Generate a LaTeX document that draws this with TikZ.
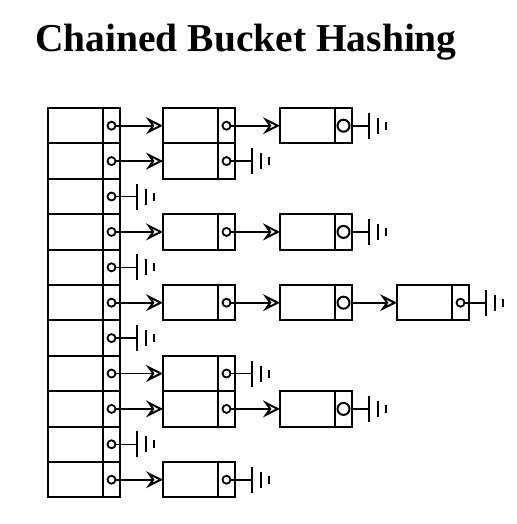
\documentclass[tikz,border=0pt]{standalone}
\usepackage{fontspec}
\setmainfont{Liberation Serif}
\usetikzlibrary{arrows.meta,calc}
\newcommand\lnode[4]{%
  \node[datacell] (#1d) at ({#2+27.5},{108+35.4*(#3-0.5)}) {};
  \node[ptrcell] (#1p) at ({#2+63.5},{108+35.4*(#3-0.5)}) {};
  \node[#4] (#1o) at (#1p.center) {};
}
\newcommand\gnd[1]{%
  \coordinate (#1g) at ($(#1p.east)+(17,0)$);
  \draw[link] (#1o) -- (#1g);
  \pic at (#1g) {gndbars};
}
\begin{document}
\begin{tikzpicture}[x=1pt,y=-1pt,
  cell/.style={draw, line width=2pt, minimum height=35.4pt, inner sep=0pt, outer sep=0pt},
  datacell/.style={cell, minimum width=55pt},
  ptrcell/.style={cell, minimum width=17pt},
  dot/.style={circle, draw, line width=1.8pt, minimum size=8pt, inner sep=0pt},
  bigdot/.style={dot, line width=2pt, minimum size=12pt},
  link/.style={line width=1.6pt},
  ptr/.style={link, -{Stealth[open, length=17pt, width=17pt, inset=6pt, line width=2pt]}},
  gndbars/.pic={
    \draw[line width=2.2pt] (0,-13) -- (0,13);
    \draw[line width=2.2pt] (9,-8) -- (9,8);
    \draw[line width=2.2pt] (17,-4) -- (17,4);
  }
]
\useasboundingbox (0,0) rectangle (516,524);
\node[font=\fontsize{39.5}{42}\selectfont\bfseries, anchor=base] (title) at (246,52) {Chained Bucket Hashing};

% bucket array
\foreach \r in {1,...,11} {
  \lnode{b\r}{48}{\r}{dot}
}

% row 1
\lnode{c1}{163}{1}{dot}
\lnode{e1}{280}{1}{bigdot}
\draw[ptr] (b1o) -- (c1d.west);
\draw[ptr] (c1o) -- (e1d.west);
\gnd{e1}
% row 2
\lnode{c2}{163}{2}{dot}
\draw[ptr] (b2o) -- (c2d.west);
\gnd{c2}
% row 3
\gnd{b3}
% row 4
\lnode{c4}{163}{4}{dot}
\lnode{e4}{280}{4}{bigdot}
\draw[ptr] (b4o) -- (c4d.west);
\draw[ptr] (c4o) -- (e4d.west);
\gnd{e4}
% row 5
\gnd{b5}
% row 6
\lnode{c6}{163}{6}{dot}
\lnode{e6}{280}{6}{bigdot}
\lnode{f6}{397}{6}{dot}
\draw[ptr] (b6o) -- (c6d.west);
\draw[ptr] (c6o) -- (e6d.west);
\draw[ptr] (e6o) -- (f6d.west);
\gnd{f6}
% row 7
\gnd{b7}
% row 8
\lnode{c8}{163}{8}{dot}
\draw[ptr] (b8o) -- (c8d.west);
\gnd{c8}
% row 9
\lnode{c9}{163}{9}{dot}
\lnode{e9}{280}{9}{bigdot}
\draw[ptr] (b9o) -- (c9d.west);
\draw[ptr] (c9o) -- (e9d.west);
\gnd{e9}
% row 10
\gnd{b10}
% row 11
\lnode{c11}{163}{11}{dot}
\draw[ptr] (b11o) -- (c11d.west);
\gnd{c11}
\end{tikzpicture}
\end{document}
